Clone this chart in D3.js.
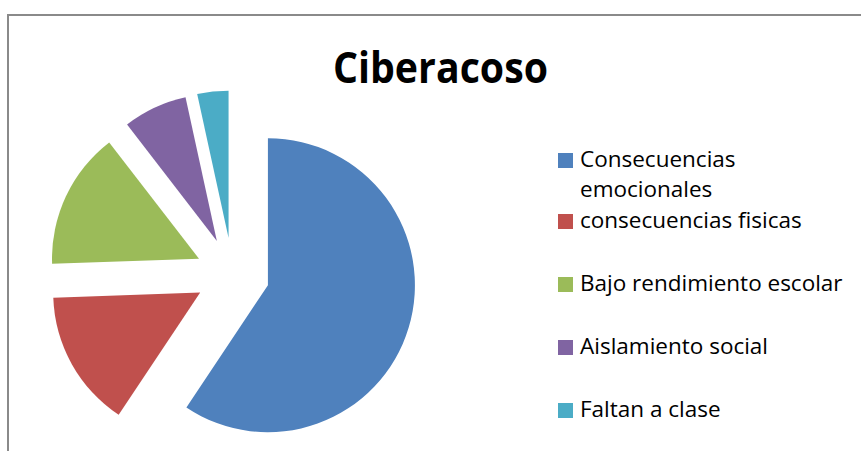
<!DOCTYPE html>
<html>
<head>
<meta charset="utf-8">
<script src="https://cdn.jsdelivr.net/npm/d3@7"></script>
<style>
  html, body { margin: 0; padding: 0; background: #fff; }
  svg { display: block; }
</style>
</head>
<body>
<div id="chart"></div>
<script>
// ---- data ----
const categories = [
  'Consecuencias emocionales',
  'consecuencias fisicas',
  'Bajo rendimiento escolar',
  'Aislamiento social',
  'Faltan a clase'
]
const values = [59, 15, 15, 7, 3.4]
const colors = ['#4F81BD', '#C0504D', '#9BBB59', '#8064A2', '#4BACC6']
// legend text lines (first entry wraps)
const legendLines = [
  ['Consecuencias', 'emocionales'],
  ['consecuencias fisicas'],
  ['Bajo rendimiento escolar'],
  ['Aislamiento social'],
  ['Faltan a clase']
]

const width = 861
const height = 451
const font = '"Open Sans", Lato, sans-serif'

const svg = d3.select('#chart').append('svg')
  .attr('width', width).attr('height', height)

// chart area border
svg.append('rect')
  .attr('x', 8).attr('y', 15)
  .attr('width', 900).attr('height', 500)
  .attr('fill', '#fff')
  .attr('stroke', '#8a8a8a').attr('stroke-width', 2)

// title
svg.append('text')
  .attr('x', 440.5).attr('y', 83)
  .attr('text-anchor', 'middle')
  .attr('font-family', font)
  .attr('font-weight', 'bold')
  .attr('font-size', '43px')
  .attr('textLength', 215).attr('lengthAdjust', 'spacingAndGlyphs')
  .attr('fill', '#000')
  .text('Ciberacoso')

// ---- exploded pie ----
const cx = 232.5, cy = 274.5
const radius = 147
const explode = 37

const pie = d3.pie().sort(null).value(d => d)
const arc = d3.arc().innerRadius(0).outerRadius(radius)
const arcs = pie(values)

const pieG = svg.append('g').attr('transform', `translate(${cx},${cy})`)
pieG.selectAll('path')
  .data(arcs)
  .join('path')
  .attr('transform', d => {
    const mid = (d.startAngle + d.endAngle) / 2
    return `translate(${explode * Math.sin(mid)},${-explode * Math.cos(mid)})`
  })
  .attr('d', arc)
  .attr('fill', (d, i) => colors[i])

// ---- legend ----
const legendY = d3.scalePoint()
  .domain(categories.slice(1))
  .range([228, 417])

const legend = svg.append('g')
categories.forEach((c, i) => {
  const base = i === 0 ? 167 : legendY(c)
  const g = legend.append('g')
  g.append('rect')
    .attr('x', 558).attr('y', base - 14)
    .attr('width', 15).attr('height', 15)
    .attr('fill', colors[i])
  legendLines[i].forEach((line, j) => {
    g.append('text')
      .attr('x', 580).attr('y', base + j * 30)
      .attr('font-family', font)
      .attr('font-size', '22.5px')
      .attr('fill', '#000')
      .text(line)
  })
})
</script>
</body>
</html>
